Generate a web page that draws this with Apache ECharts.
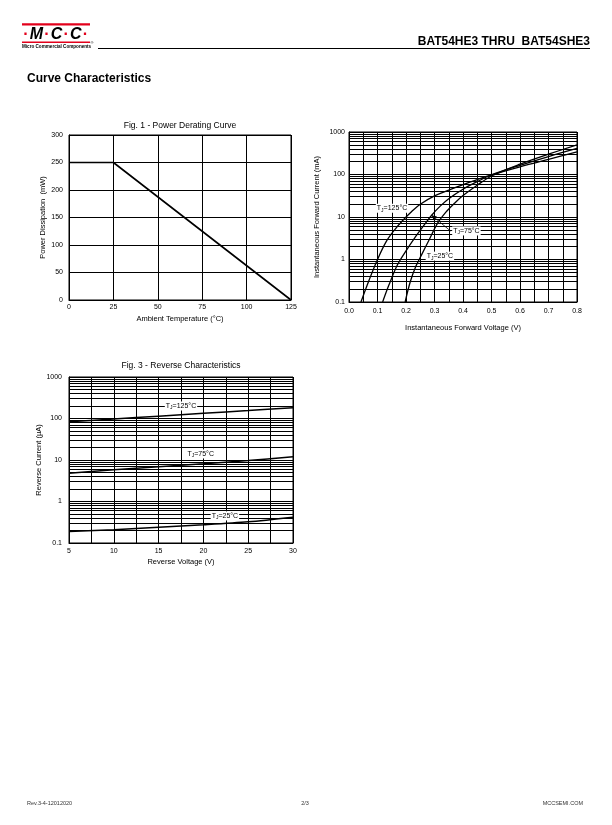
<!DOCTYPE html>
<html>
<head>
<meta charset="utf-8">
<script src="https://cdn.jsdelivr.net/npm/echarts@6/dist/echarts.min.js"></script>
<style>
html,body{margin:0;padding:0;background:#fff;}
#page{width:612px;height:825px;}
</style>
</head>
<body>
<div id="page"></div>
<script>
// ---------- Fig. 1 - Power Derating Curve ----------
const fig1Temperature = [0, 25, 125];          // °C
const fig1Power = [250, 250, 0];               // mW
const fig1XTicks = [0, 25, 50, 75, 100, 125];
const fig1YTicks = [0, 50, 100, 150, 200, 250, 300];

// ---------- Fig. 2 - Forward characteristics (V, mA) ----------
const fig2V125 = [0.042, 0.07, 0.10, 0.13, 0.16, 0.19, 0.22, 0.25, 0.30, 0.35, 0.40, 0.45, 0.50, 0.60, 0.70, 0.80];
const fig2I125 = [0.1, 0.32, 1, 2.6, 5, 8.5, 13.5, 20, 31.5, 43, 58, 76, 98, 152, 228, 340];
const fig2V75 = [0.118, 0.14, 0.17, 0.20, 0.23, 0.26, 0.29, 0.32, 0.35, 0.40, 0.45, 0.50, 0.60, 0.70, 0.80];
const fig2I75 = [0.1, 0.25, 0.75, 1.6, 3.2, 6, 11, 18, 27, 45, 68, 98, 165, 265, 410];
const fig2V25 = [0.197, 0.215, 0.235, 0.255, 0.28, 0.31, 0.34, 0.37, 0.40, 0.45, 0.50, 0.60, 0.70, 0.80];
const fig2I25 = [0.1, 0.3, 0.7, 1.3, 2.8, 7, 13, 21, 32, 56, 92, 175, 300, 500];
const fig2XTicks = ['0.0','0.1','0.2','0.3','0.4','0.5','0.6','0.7','0.8'];
const fig2YTicks = ['0.1','1','10','100','1000'];

// ---------- Fig. 3 - Reverse Characteristics (V, µA) ----------
const fig3Voltage = [5, 10, 15, 20, 25, 30];
const fig3I125 = [83, 97, 114, 134, 155, 182];
const fig3I75 = [4.8, 5.8, 6.9, 8.1, 9.7, 12];
const fig3I25 = [0.19, 0.21, 0.24, 0.275, 0.325, 0.42];
const fig3XTicks = [5, 10, 15, 20, 25, 30];
const fig3YTicks = ['0.1','1','10','100','1000'];

const FONT = 'Liberation Sans';
const BLACK = '#000';

function pairs(xs, ys){ return xs.map((x,i)=>[x, ys[i]]); }

// log-scale minor gridlines (2..9 in each decade)
function logMinorLines(fromExp, toExp){
  const out = [];
  for (let e = fromExp; e < toExp; e++){
    for (let k = 2; k <= 9; k++){
      out.push({yAxis: +(k * Math.pow(10, e)).toPrecision(3)});
    }
  }
  return out;
}
const minorGrid = {
  silent: true,
  symbol: ['none','none'],
  label: {show:false},
  lineStyle: {color: BLACK, width: 1, type: 'solid'},
  emphasis: {disabled: true},
  animation: false,
  data: logMinorLines(-1, 3)
};

const tj = (t) => 'T{s|J}=' + t + '°C';
const tjRich = {s: {fontSize: 5, fontFamily: FONT, color: BLACK, padding: [4,0,0,0]}};
function annot(coord, t){
  return {
    coord: coord, symbol: 'rect', symbolSize: 1,
    itemStyle: {color: 'rgba(0,0,0,0)'},
    label: {show: true, position: 'inside', formatter: tj(t), rich: tjRich,
            fontSize: 7, fontFamily: FONT, color: BLACK,
            backgroundColor: '#fff', padding: [0,1]}
  };
}

const tickLabel = {fontSize: 7, color: BLACK, fontFamily: FONT};
const nameStyle = {fontSize: 7.5, color: BLACK, fontFamily: FONT};
const gridLine = {show: true, lineStyle: {color: BLACK, width: 1}};
const axisLineBlack = {show: true, lineStyle: {color: BLACK, width: 1}};

const curveStyle = {color: BLACK, width: 1.3};

const option = {
  animation: false,
  textStyle: {fontFamily: FONT},
  graphic: [
    // header logo
    {type:'rect', shape:{x:22, y:23.3, width:68, height:2.2}, style:{fill:'#e3001b'}},
    {type:'text', x:22, y:34.5, style:{
      text:'{r|·}{k|M}{r|·}{k|C}{r|·}{k|C}{r|·}',
      verticalAlign:'middle',
      rich:{
        r:{fill:'#e3001b', fontSize:16, fontWeight:'bold', fontFamily:FONT, padding:[0,1.2]},
        k:{fill:BLACK, fontSize:16, fontWeight:'bold', fontStyle:'italic', fontFamily:FONT}
      }}},
    {type:'rect', shape:{x:22, y:41.5, width:68, height:1.4}, style:{fill:'#e3001b'}},
    {type:'text', x:22, y:46.3, style:{text:'Micro Commercial Components', fill:BLACK,
      fontSize:4.6, fontWeight:'bold', fontFamily:FONT, verticalAlign:'middle'}},
    {type:'text', x:90.5, y:42.5, style:{text:'®', fill:BLACK, fontSize:4, fontFamily:FONT, verticalAlign:'middle'}},
    {type:'line', shape:{x1:98, y1:48.5, x2:590, y2:48.5}, style:{stroke:BLACK, lineWidth:1}},
    {type:'text', x:590, y:41.5, style:{text:'BAT54HE3 THRU  BAT54SHE3', fill:BLACK,
      fontSize:12, fontWeight:'bold', fontFamily:FONT, align:'right', verticalAlign:'middle'}},
    {type:'text', x:27, y:79, style:{text:'Curve Characteristics', fill:BLACK,
      fontSize:12, fontWeight:'bold', fontFamily:FONT, verticalAlign:'middle'}},
    // figure titles
    {type:'text', x:180, y:125.5, style:{text:'Fig. 1 - Power Derating Curve', fill:BLACK,
      fontSize:8.5, fontFamily:FONT, align:'center', verticalAlign:'middle'}},
    {type:'text', x:181, y:366, style:{text:'Fig. 3 - Reverse Characteristics', fill:BLACK,
      fontSize:8.5, fontFamily:FONT, align:'center', verticalAlign:'middle'}},
    // footer
    {type:'text', x:27, y:803, style:{text:'Rev.3-4-12012020', fill:'#333', fontSize:5.5, fontFamily:FONT, verticalAlign:'middle'}},
    {type:'text', x:305, y:803, style:{text:'2/3', fill:'#333', fontSize:5.5, fontFamily:FONT, align:'center', verticalAlign:'middle'}},
    {type:'text', x:583, y:803, style:{text:'MCCSEMI.COM', fill:'#333', fontSize:5.5, fontFamily:FONT, align:'right', verticalAlign:'middle'}}
  ],
  grid: [
    {left:69, top:135, width:222, height:165, show:true, borderColor:BLACK, borderWidth:1, backgroundColor:'transparent'},
    {left:349, top:132, width:228, height:170, show:true, borderColor:BLACK, borderWidth:1, backgroundColor:'transparent'},
    {left:69, top:377, width:224, height:166, show:true, borderColor:BLACK, borderWidth:1, backgroundColor:'transparent'}
  ],
  xAxis: [
    {gridIndex:0, type:'value', min:fig1XTicks[0], max:fig1XTicks[fig1XTicks.length-1], interval:25,
     name:'Ambient Temperature (°C)', nameLocation:'middle', nameGap:15, nameTextStyle:nameStyle,
     axisLine:axisLineBlack, axisTick:{show:false}, splitLine:gridLine,
     axisLabel:{...tickLabel, margin:4}},
    {gridIndex:1, type:'value', min:0, max:0.8, interval:0.1,
     name:'Instantaneous Forward Voltage (V)', nameLocation:'middle', nameGap:22, nameTextStyle:nameStyle,
     axisLine:axisLineBlack, axisTick:{show:false}, splitLine:gridLine,
     minorTick:{show:false, splitNumber:2}, minorSplitLine:{show:true, lineStyle:{color:BLACK, width:1}},
     axisLabel:{...tickLabel, margin:6, formatter:(v)=>fig2XTicks[Math.round(v*10)]}},
    {gridIndex:2, type:'value', min:5, max:30, interval:5,
     name:'Reverse Voltage (V)', nameLocation:'middle', nameGap:15, nameTextStyle:nameStyle,
     axisLine:axisLineBlack, axisTick:{show:false}, splitLine:gridLine,
     minorTick:{show:false, splitNumber:2}, minorSplitLine:{show:true, lineStyle:{color:BLACK, width:1}},
     axisLabel:{...tickLabel, margin:5}}
  ],
  yAxis: [
    {gridIndex:0, type:'value', min:fig1YTicks[0], max:fig1YTicks[fig1YTicks.length-1], interval:50,
     name:'Power Dissipation  (mW)', nameLocation:'middle', nameGap:22, nameTextStyle:nameStyle,
     axisLine:axisLineBlack, axisTick:{show:false}, splitLine:gridLine,
     axisLabel:{...tickLabel, margin:6}},
    {gridIndex:1, type:'log', logBase:10, min:0.1, max:1000,
     name:'Instantaneous Forward Current (mA)', nameLocation:'middle', nameGap:28, nameTextStyle:nameStyle,
     axisLine:axisLineBlack, axisTick:{show:false}, splitLine:gridLine,
     axisLabel:{...tickLabel, margin:4, formatter:(v)=>fig2YTicks[Math.round(Math.log10(v))+1]}},
    {gridIndex:2, type:'log', logBase:10, min:0.1, max:1000,
     name:'Reverse Current (µA)', nameLocation:'middle', nameGap:24, nameTextStyle:nameStyle,
     axisLine:axisLineBlack, axisTick:{show:false}, splitLine:gridLine,
     axisLabel:{...tickLabel, margin:7, formatter:(v)=>fig3YTicks[Math.round(Math.log10(v))+1]}}
  ],
  series: [
    {type:'line', xAxisIndex:0, yAxisIndex:0, data:pairs(fig1Temperature, fig1Power),
     symbol:'none', lineStyle:{color:BLACK, width:1.6}, silent:true, z:3},

    {type:'line', xAxisIndex:1, yAxisIndex:1, data:pairs(fig2V125, fig2I125), smooth:0.35,
     symbol:'none', lineStyle:curveStyle, silent:true, z:3,
     markLine: minorGrid,
     markPoint:{data:[annot([0.151, 16], 125)], z:10}},
    {type:'line', xAxisIndex:1, yAxisIndex:1, data:pairs(fig2V75, fig2I75), smooth:0.35,
     symbol:'none', lineStyle:curveStyle, silent:true, z:3,
     markLine:{silent:true, symbol:['arrow','none'], symbolSize:[4,5], label:{show:false},
       lineStyle:{color:BLACK, width:0.8, type:'solid'}, animation:false,
       data:[[{coord:[0.29, 11]}, {coord:[0.356, 4.7]}]]},
     markPoint:{data:[annot([0.412, 4.7], 75)], z:10}},
    {type:'line', xAxisIndex:1, yAxisIndex:1, data:pairs(fig2V25, fig2I25), smooth:0.35,
     symbol:'none', lineStyle:curveStyle, silent:true, z:3,
     markPoint:{data:[annot([0.319, 1.2], 25)], z:10}},

    {type:'line', xAxisIndex:2, yAxisIndex:2, data:pairs(fig3Voltage, fig3I125), smooth:0.3,
     symbol:'none', lineStyle:{color:BLACK, width:1.5}, silent:true, z:3,
     markLine: minorGrid,
     markPoint:{data:[annot([17.5, 200], 125)], z:10}},
    {type:'line', xAxisIndex:2, yAxisIndex:2, data:pairs(fig3Voltage, fig3I75), smooth:0.3,
     symbol:'none', lineStyle:{color:BLACK, width:1.5}, silent:true, z:3,
     markPoint:{data:[annot([19.7, 14], 75)], z:10}},
    {type:'line', xAxisIndex:2, yAxisIndex:2, data:pairs(fig3Voltage, fig3I25), smooth:0.3,
     symbol:'none', lineStyle:{color:BLACK, width:1.5}, silent:true, z:3,
     markPoint:{data:[annot([22.4, 0.45], 25)], z:10}}
  ]
};

const chart = echarts.init(document.getElementById('page'), null, {renderer:'canvas', width:612, height:825});
chart.setOption(option);
</script>
</body>
</html>
